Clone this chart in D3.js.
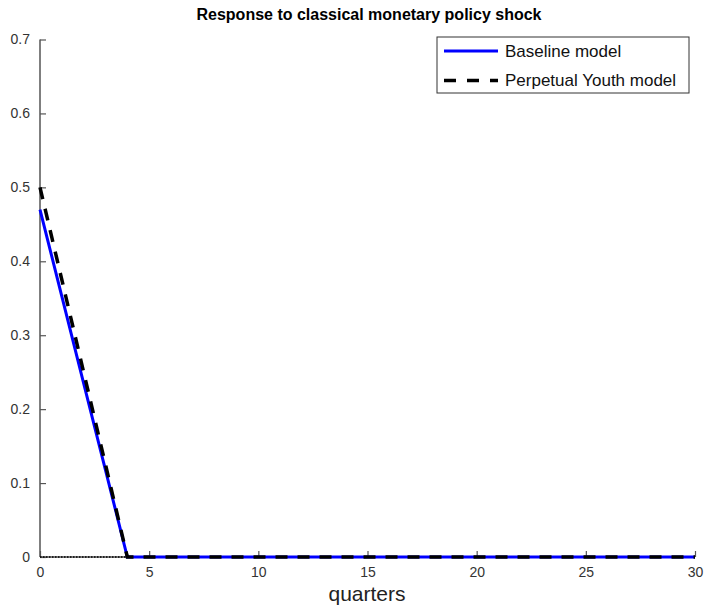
<!DOCTYPE html>
<html>
<head>
<meta charset="utf-8">
<script src="https://cdn.jsdelivr.net/npm/d3@7"></script>
<style>
  html, body { margin: 0; padding: 0; background: #fff; }
  svg { display: block; font-family: "Liberation Sans", Arial, Helvetica, sans-serif; }
</style>
</head>
<body>
<svg id="chart" width="705" height="606"></svg>
<script>
const title = "Response to classical monetary policy shock";
const xLabel = "quarters";
const quarters = [0,1,2,3,4,5,6,7,8,9,10,11,12,13,14,15,16,17,18,19,20,21,22,23,24,25,26,27,28,29,30];
const baseline = [0.47,0.3525,0.235,0.1175,0,0,0,0,0,0,0,0,0,0,0,0,0,0,0,0,0,0,0,0,0,0,0,0,0,0,0];
const perpetualYouth = [0.5,0.375,0.25,0.125,0,0,0,0,0,0,0,0,0,0,0,0,0,0,0,0,0,0,0,0,0,0,0,0,0,0,0];
const zeroLine = [0,0,0,0,0,0,0,0,0,0,0,0,0,0,0,0,0,0,0,0,0,0,0,0,0,0,0,0,0,0,0];
const xTicks = [0,5,10,15,20,25,30];
const yTicks = [0,0.1,0.2,0.3,0.4,0.5,0.6,0.7];
const seriesNames = ["Baseline model", "Perpetual Youth model"];

const svg = d3.select("#chart");
const x = d3.scaleLinear().domain([0, 30]).range([40, 695]);
const y = d3.scaleLinear().domain([0, 0.7]).range([557, 39.5]);

const axisColor = "#555";
const textColor = "#333";

// axes
const gx = svg.append("g").attr("transform", `translate(0,${y(0)})`)
  .call(d3.axisBottom(x).tickValues(xTicks).tickSize(-6).tickPadding(10).tickFormat(d3.format("d")));
const gy = svg.append("g").attr("transform", `translate(${x(0)},0)`)
  .call(d3.axisLeft(y).tickValues(yTicks).tickSize(-6).tickPadding(10).tickFormat(d => d === 0 ? "0" : d3.format(".1f")(d)));
[gx, gy].forEach(g => {
  g.select(".domain").attr("stroke", axisColor).attr("stroke-width", 1.5);
  g.selectAll(".tick line").attr("stroke", axisColor).attr("stroke-width", 1.2);
  g.selectAll(".tick text").attr("fill", textColor).style("font-size", "14px")
    .style("font-family", "\"Liberation Sans\", Arial, sans-serif");
});
gy.select(".domain").attr("d", `M0,${y(0.7)}V${y(0)}`);
gx.select(".domain").attr("d", `M${x(0)},0H${x(30)}`);

const line = d3.line().x((d, i) => x(quarters[i])).y(d => y(d));

svg.append("path").datum(zeroLine).attr("d", line)
  .attr("fill", "none").attr("stroke", "#000").attr("stroke-width", 1.5).attr("stroke-dasharray", "1.5,1.5");
svg.append("path").datum(baseline).attr("d", line)
  .attr("fill", "none").attr("stroke", "#0000ff").attr("stroke-width", 3);
svg.append("path").datum(perpetualYouth).attr("d", line)
  .attr("fill", "none").attr("stroke", "#000").attr("stroke-width", 3.5).attr("stroke-dasharray", "12,10");

// title
svg.append("text").attr("x", 369).attr("y", 20).attr("text-anchor", "middle")
  .style("font-size", "16px").style("font-weight", "bold").attr("fill", "#000").text(title);

// x label
svg.append("text").attr("x", 367).attr("y", 601).attr("text-anchor", "middle")
  .style("font-size", "21px").attr("fill", "#222").text(xLabel);

// legend
const lg = svg.append("g");
lg.append("rect").attr("x", 437).attr("y", 37).attr("width", 252).attr("height", 56)
  .attr("fill", "#fff").attr("stroke", "#333").attr("stroke-width", 1);
const rows = [
  { name: seriesNames[0], color: "#0000ff", dash: null, w: 3, yy: 51 },
  { name: seriesNames[1], color: "#000", dash: "12,11", w: 3.5, yy: 80.5 }
];
rows.forEach(r => {
  const l = lg.append("line").attr("x1", 444).attr("x2", 498).attr("y1", r.yy).attr("y2", r.yy)
    .attr("stroke", r.color).attr("stroke-width", r.w);
  if (r.dash) l.attr("stroke-dasharray", r.dash);
  lg.append("text").attr("x", 505).attr("y", r.yy).attr("dy", "0.35em")
    .style("font-size", "17px").attr("fill", "#111").text(r.name);
});
</script>
</body>
</html>
